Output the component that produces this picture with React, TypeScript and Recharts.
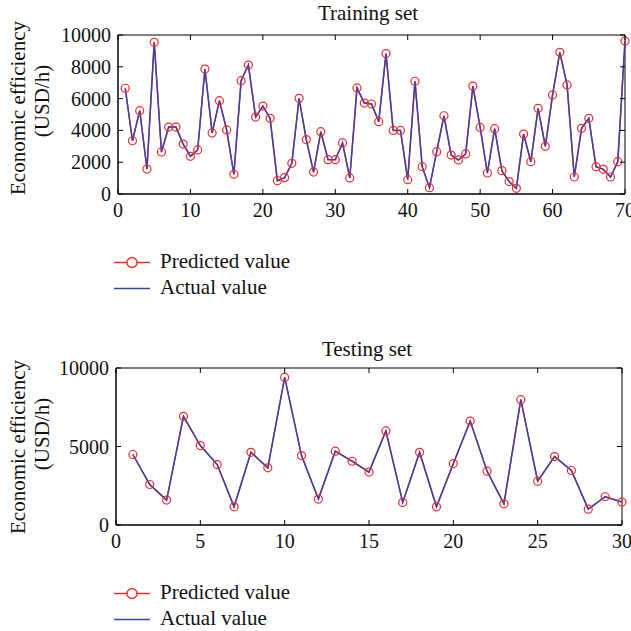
import React from 'react';
import { LineChart, Line, XAxis, YAxis, ReferenceArea } from 'recharts';

// training set (70 samples)
const trainActual = [
  6650, 3350, 5240, 1570, 9540, 2640, 4210, 4210, 3140, 2370,
  2770, 7860, 3840, 5870, 4030, 1240, 7130, 8110, 4840, 5530,
  4760, 840, 1030, 1930, 6020, 3420, 1380, 3920, 2160, 2160,
  3210, 1010, 6670, 5720, 5660, 4550, 8830, 4000, 4000, 900,
  7090, 1720, 400, 2660, 4920, 2450, 2140, 2520, 6790, 4190,
  1320, 4110, 1470, 780, 360, 3770, 2030, 5390, 3000, 6230,
  8910, 6860, 1070, 4130, 4760, 1720, 1550, 1070, 2030, 9620,
];
const trainPredicted = [
  6650, 3350, 5240, 1570, 9540, 2640, 4210, 4210, 3140, 2370,
  2770, 7860, 3840, 5870, 4030, 1240, 7130, 8110, 4840, 5530,
  4760, 840, 1030, 1930, 6020, 3420, 1380, 3920, 2160, 2160,
  3210, 1010, 6670, 5720, 5660, 4550, 8830, 4000, 4000, 900,
  7090, 1720, 400, 2660, 4920, 2450, 2140, 2520, 6790, 4190,
  1320, 4110, 1470, 780, 360, 3770, 2030, 5390, 3000, 6230,
  8910, 6860, 1070, 4130, 4760, 1720, 1550, 1070, 2030, 9620,
];
const trainXTicks = [0, 10, 20, 30, 40, 50, 60, 70];
const trainYTicks = [0, 2000, 4000, 6000, 8000, 10000];

// testing set (30 samples)
const testActual = [
  4490, 2580, 1590, 6920, 5060, 3850, 1160, 4630, 3640, 9400,
  4420, 1650, 4700, 4060, 3370, 5990, 1440, 4630, 1160, 3910,
  6620, 3430, 1350, 7980, 2790, 4360, 3470, 1010, 1800, 1460,
];
const testPredicted = [
  4490, 2580, 1590, 6920, 5060, 3850, 1160, 4630, 3640, 9400,
  4420, 1650, 4700, 4060, 3370, 5990, 1440, 4630, 1160, 3910,
  6620, 3430, 1350, 7980, 2790, 4360, 3470, 1010, 1800, 1460,
];
const testXTicks = [0, 5, 10, 15, 20, 25, 30];
const testYTicks = [0, 5000, 10000];

const FONT = '"Liberation Serif", "Times New Roman", serif';
const RED = '#f42a2a';
const BLUE = '#2f45ad';

const toRows = (actual: number[], predicted: number[]) =>
  actual.map((a, i) => ({ n: i + 1, actual: a, predicted: predicted[i] }));

const trainData = toRows(trainActual, trainPredicted);
const testData = toRows(testActual, testPredicted);

// matlab style ticks: inward, mirrored on the opposite side of the box
const XTick = (props: any) => {
  const { x, y, payload, top, bottom } = props;
  return (
    <g>
      <line x1={x} x2={x} y1={bottom} y2={bottom - 5} stroke="#000" />
      <line x1={x} x2={x} y1={top} y2={top + 5} stroke="#000" />
      <text x={x} y={y} dy="0.72em" textAnchor="middle" fontSize={20} fontFamily={FONT} fill="#111">
        {payload.value}
      </text>
    </g>
  );
};

const YTick = (props: any) => {
  const { x, y, payload, left, right } = props;
  return (
    <g>
      <line x1={left} x2={left + 5} y1={y} y2={y} stroke="#000" />
      <line x1={right} x2={right - 5} y1={y} y2={y} stroke="#000" />
      <text x={x} y={y} dy="0.35em" textAnchor="end" fontSize={20} fontFamily={FONT} fill="#111">
        {payload.value}
      </text>
    </g>
  );
};

interface PanelProps {
  data: { n: number; actual: number; predicted: number }[];
  xMax: number;
  xTicks: number[];
  yTicks: number[];
  margin: { top: number; right: number; left: number; bottom: number };
  axisWidth: number;
}

const Panel: React.FC<PanelProps> = ({ data, xMax, xTicks, yTicks, margin, axisWidth }) => {
  const W = 631;
  const H = 230;
  const top = margin.top;
  const bottom = H - margin.bottom - 30;
  const left = margin.left + axisWidth;
  const right = W - margin.right;
  return (
    <LineChart width={W} height={H} data={data} margin={margin}>
      <ReferenceArea x1={0} x2={xMax} y1={0} y2={10000} fill="none" stroke="#000" strokeWidth={1} />
      <XAxis
        dataKey="n"
        type="number"
        domain={[0, xMax]}
        ticks={xTicks}
        height={30}
        tickSize={0}
        tickMargin={9}
        axisLine={{ stroke: '#000' }}
        tickLine={false}
        interval={0}
        tick={(p: any) => <XTick {...p} top={top} bottom={bottom} />}
      />
      <YAxis
        type="number"
        domain={[0, 10000]}
        ticks={yTicks}
        width={axisWidth}
        tickSize={0}
        tickMargin={7}
        axisLine={{ stroke: '#000' }}
        tickLine={false}
        interval={0}
        tick={(p: any) => <YTick {...p} left={left} right={right} />}
      />
      <Line
        dataKey="predicted"
        stroke={RED}
        strokeWidth={1.5}
        dot={{ r: 4, stroke: RED, strokeWidth: 1.2, fill: 'none' }}
        isAnimationActive={false}
      />
      <Line
        dataKey="actual"
        stroke={BLUE}
        strokeWidth={1.4}
        dot={false}
        isAnimationActive={false}
      />
    </LineChart>
  );
};

const Legend2 = ({ y }: { y: number }) => (
  <g fontFamily={FONT} fontSize={21} fill="#111">
    <line x1={114} x2={150} y1={y} y2={y} stroke={RED} strokeWidth={1.3} />
    <circle cx={132} cy={y} r={5} fill="#fff" stroke={RED} strokeWidth={1.3} />
    <text x={160} y={y + 5}>Predicted value</text>
    <line x1={114} x2={150} y1={y + 26} y2={y + 26} stroke={BLUE} strokeWidth={1.3} />
    <text x={160} y={y + 31}>Actual value</text>
  </g>
);

const YLabel = ({ y1, y2 }: { y1: number; y2: number }) => (
  <g fontFamily={FONT} fontSize={21} fill="#111">
    <text x={18} y={y1} transform={`rotate(-90 18 ${y1})`} textAnchor="middle" dominantBaseline="central">
      Economic efficiency
    </text>
    <text x={42} y={y2} transform={`rotate(-90 42 ${y2})`} textAnchor="middle" dominantBaseline="central">
      (USD/h)
    </text>
  </g>
);

export default function App() {
  return (
    <div style={{ position: 'absolute', left: 0, top: 0, width: 631, height: 631, background: '#fff', overflow: 'hidden' }}>
      <div style={{ position: 'absolute', left: 0, top: 0 }}>
        <Panel
          data={trainData}
          xMax={70}
          xTicks={trainXTicks}
          yTicks={trainYTicks}
          margin={{ top: 35, right: 6, left: 0, bottom: 6 }}
          axisWidth={118}
        />
      </div>
      <div style={{ position: 'absolute', left: 0, top: 330 }}>
        <Panel
          data={testData}
          xMax={30}
          xTicks={testXTicks}
          yTicks={testYTicks}
          margin={{ top: 38, right: 9, left: 0, bottom: 5 }}
          axisWidth={116}
        />
      </div>
      <svg width={631} height={631} style={{ position: 'absolute', left: 0, top: 0, pointerEvents: 'none' }}>
        <text x={368} y={20} textAnchor="middle" fontFamily={FONT} fontSize={21} fill="#111">Training set</text>
        <text x={367} y={356} textAnchor="middle" fontFamily={FONT} fontSize={21} fill="#111">Testing set</text>
        <YLabel y1={108} y2={101} />
        <YLabel y1={447} y2={434} />
        <Legend2 y={262.5} />
        <Legend2 y={593.5} />
      </svg>
    </div>
  );
}
